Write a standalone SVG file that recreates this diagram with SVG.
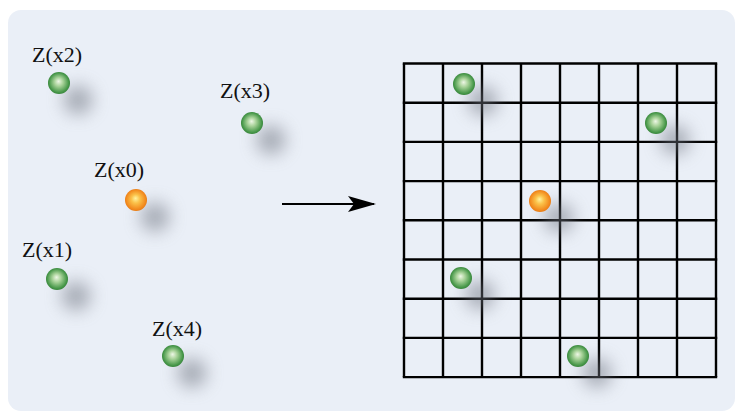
<svg xmlns="http://www.w3.org/2000/svg" width="741" height="412" viewBox="0 0 741 412">
<defs>
<radialGradient id="gGreen" cx="50%" cy="50%" r="55%" fx="48%" fy="42%">
<stop offset="0" stop-color="#eef7e6"/>
<stop offset="0.35" stop-color="#a9d39a"/>
<stop offset="0.8" stop-color="#48984a"/>
<stop offset="1" stop-color="#2f7a33"/>
</radialGradient>
<radialGradient id="gOrange" cx="50%" cy="50%" r="55%" fx="48%" fy="42%">
<stop offset="0" stop-color="#fff3a0"/>
<stop offset="0.35" stop-color="#fbc24a"/>
<stop offset="0.8" stop-color="#f28a1e"/>
<stop offset="1" stop-color="#e07412"/>
</radialGradient>
<filter id="blur" x="-150%" y="-150%" width="400%" height="400%">
<feGaussianBlur stdDeviation="9"/>
</filter>
<marker id="arrow" viewBox="0 0 28 16" refX="26" refY="8" markerWidth="28" markerHeight="16" markerUnits="userSpaceOnUse" orient="auto">
<path d="M0,0 L28,8 L0,16 L6,8 Z" fill="#000"/>
</marker>
</defs>
<style>
.lbl{font-family:"Liberation Serif","Times New Roman",serif;font-size:22px;fill:#111;text-anchor:middle}
.shadow{fill:#6f7580;opacity:0.6;filter:url(#blur)}
.green{fill:url(#gGreen)}
.orange{fill:url(#gOrange)}
.grid line{stroke:#000;stroke-width:2.4}
</style>
<rect x="8" y="10" width="727" height="401" rx="13" ry="13" fill="#eaeff7"/>

<g id="node-x2">
<circle class="shadow" cx="78" cy="100" r="14"/>
<circle class="green" cx="59" cy="83" r="11"/>
<text class="lbl" x="57" y="62">Z(x2)</text>
</g>
<g id="node-x3">
<circle class="shadow" cx="271" cy="140" r="14"/>
<circle class="green" cx="252" cy="123" r="11"/>
<text class="lbl" x="245" y="98">Z(x3)</text>
</g>
<g id="node-x0">
<circle class="shadow" cx="155" cy="217" r="14"/>
<circle class="orange" cx="136" cy="200" r="11"/>
<text class="lbl" x="119" y="177">Z(x0)</text>
</g>
<g id="node-x1">
<circle class="shadow" cx="76" cy="296" r="14"/>
<circle class="green" cx="57" cy="279" r="11"/>
<text class="lbl" x="47" y="257">Z(x1)</text>
</g>
<g id="node-x4">
<circle class="shadow" cx="192" cy="373" r="14"/>
<circle class="green" cx="173" cy="356" r="11"/>
<text class="lbl" x="177" y="336">Z(x4)</text>
</g>

<g id="grid" class="grid">
<line x1="404" y1="63.5" x2="404" y2="377.1"/>
<line x1="443" y1="63.5" x2="443" y2="377.1"/>
<line x1="482" y1="63.5" x2="482" y2="377.1"/>
<line x1="521" y1="63.5" x2="521" y2="377.1"/>
<line x1="560" y1="63.5" x2="560" y2="377.1"/>
<line x1="599" y1="63.5" x2="599" y2="377.1"/>
<line x1="638" y1="63.5" x2="638" y2="377.1"/>
<line x1="677" y1="63.5" x2="677" y2="377.1"/>
<line x1="716" y1="63.5" x2="716" y2="377.1"/>
<line x1="402.8" y1="63.5" x2="717.2" y2="63.5"/>
<line x1="402.8" y1="102.7" x2="717.2" y2="102.7"/>
<line x1="402.8" y1="141.9" x2="717.2" y2="141.9"/>
<line x1="402.8" y1="181.1" x2="717.2" y2="181.1"/>
<line x1="402.8" y1="220.3" x2="717.2" y2="220.3"/>
<line x1="402.8" y1="259.5" x2="717.2" y2="259.5"/>
<line x1="402.8" y1="298.7" x2="717.2" y2="298.7"/>
<line x1="402.8" y1="337.9" x2="717.2" y2="337.9"/>
<line x1="402.8" y1="377.1" x2="717.2" y2="377.1"/>
</g>

<g id="grid-node-1">
<circle class="shadow" cx="483" cy="101" r="14"/>
<circle class="green" cx="464" cy="84" r="11"/>
</g>
<g id="grid-node-2">
<circle class="shadow" cx="675" cy="140" r="14"/>
<circle class="green" cx="656" cy="123" r="11"/>
</g>
<g id="grid-node-0">
<circle class="shadow" cx="559" cy="218" r="14"/>
<circle class="orange" cx="540" cy="201" r="11"/>
</g>
<g id="grid-node-3">
<circle class="shadow" cx="480" cy="295" r="14"/>
<circle class="green" cx="461" cy="278" r="11"/>
</g>
<g id="grid-node-4">
<circle class="shadow" cx="597" cy="373" r="14"/>
<circle class="green" cx="578" cy="356" r="11"/>
</g>

<g id="connectors">
<line x1="282" y1="204" x2="374" y2="204" stroke="#000" stroke-width="2" marker-end="url(#arrow)"/>
</g>
</svg>
